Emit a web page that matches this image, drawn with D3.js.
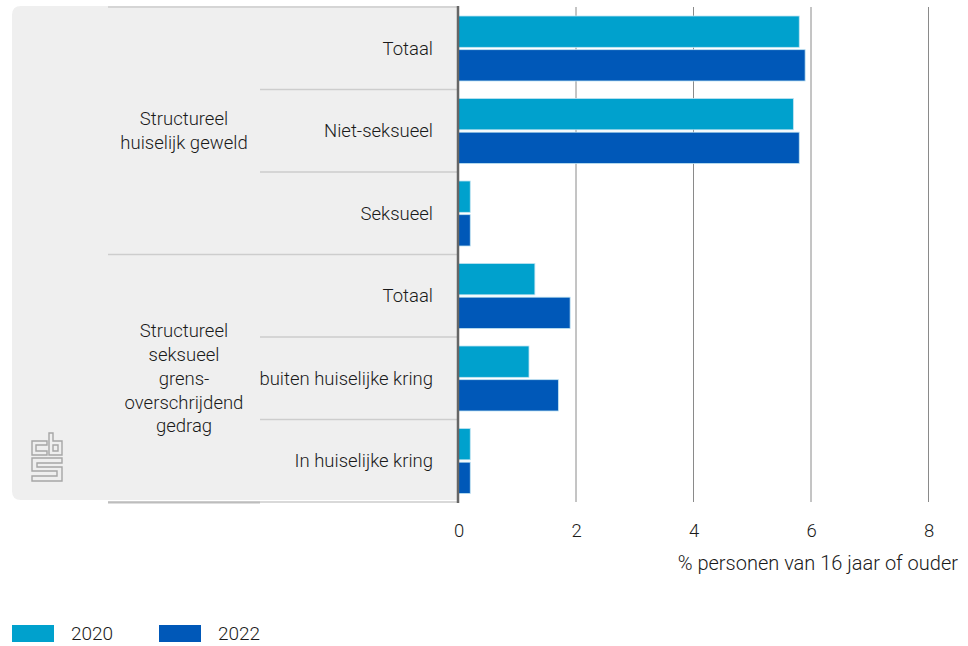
<!DOCTYPE html>
<html><head><meta charset="utf-8">
<script src="https://cdn.jsdelivr.net/npm/d3@7"></script>
<style>
html,body{margin:0;padding:0;background:#fff;}
svg{display:block;font-family:Roboto, "Noto Sans", sans-serif;font-weight:300;}
</style></head>
<body>
<svg id="chart" width="968" height="646"></svg>
<script>
const groups = ["Structureel huiselijk geweld", "Structureel seksueel grensoverschrijdend gedrag"];
const groupLines = [["Structureel", "huiselijk geweld"], ["Structureel", "seksueel", "grens-", "overschrijdend", "gedrag"]];
const categories = ["Totaal", "Niet-seksueel", "Seksueel", "Totaal", "buiten huiselijke kring", "In huiselijke kring"];
const categoryGroup = [0, 0, 0, 1, 1, 1];
const series = ["2020", "2022"];
const values2020 = [5.8, 5.7, 0.2, 1.3, 1.2, 0.2];
const values2022 = [5.9, 5.8, 0.2, 1.9, 1.7, 0.2];
const xTicks = [0, 2, 4, 6, 8];
const axisTitle = "% personen van 16 jaar of ouder";
const colors = {"2020": "#00a1cd", "2022": "#0058b8"};

const svg = d3.select("#chart");
const FS = 18.5;
const x0 = 458.5, x1 = 928.5, yTop = 7, yBot = 502;
const x = d3.scaleLinear().domain([0, 8]).range([x0, x1]);
const y = d3.scaleBand().domain(d3.range(categories.length)).range([yTop, yBot]).padding(0);
const ySub = d3.scaleBand().domain(series).range([9, y.bandwidth() - 8.5]).paddingInner(0.07);

// grey panel
svg.append("path")
  .attr("d", (() => { const l=12,t=6,r=458,b=500,rad=9;
    return `M${r},${t} L${l+rad},${t} Q${l},${t} ${l},${t+rad} L${l},${b-rad} Q${l},${b} ${l+rad},${b} L${r},${b} Z`; })())
  .attr("fill", "#efefef");

// gridlines
svg.append("g").selectAll("line").data(xTicks.filter(d => d > 0)).join("line")
  .attr("x1", d => x(d)).attr("x2", d => x(d))
  .attr("y1", yTop).attr("y2", yBot)
  .attr("stroke", "#8a8a8a").attr("stroke-width", 1);

// separator lines
const sep = svg.append("g").attr("stroke", "#cdcdcd").attr("stroke-width", 1.5);
for (let i = 0; i <= categories.length; i++) {
  const yy = i < categories.length ? y(i) : yBot;
  const isGroupEdge = i === 0 || i === categories.length || categoryGroup[i] !== categoryGroup[i-1];
  sep.append("line").attr("x1", isGroupEdge ? 108 : 260).attr("x2", x0)
    .attr("y1", yy).attr("y2", yy);
}
svg.append("line").attr("x1", 108).attr("x2", 260).attr("y1", yBot + 0.5).attr("y2", yBot + 0.5)
  .attr("stroke", "#bdbdbd").attr("stroke-width", 2);

// bars
const data = categories.map((c, i) => ({i, c, vals: [{s: "2020", v: values2020[i]}, {s: "2022", v: values2022[i]}]}));
const cat = svg.append("g").selectAll("g").data(data).join("g")
  .attr("transform", d => `translate(0,${y(d.i)})`);
cat.selectAll("rect").data(d => d.vals).join("rect")
  .attr("x", x(0)).attr("y", d => ySub(d.s))
  .attr("width", d => x(d.v) - x(0)).attr("height", ySub.bandwidth())
  .attr("fill", d => colors[d.s])
  .attr("stroke", "#bfe3f2").attr("stroke-width", 0.8);

// category labels
svg.append("g").selectAll("text").data(data).join("text")
  .attr("x", 433).attr("y", d => y(d.i) + y.bandwidth() / 2)
  .attr("dy", "0.35em").attr("text-anchor", "end")
  .attr("font-size", FS).attr("fill", "#1a1a1a").text(d => d.c);

// group labels
groups.forEach((g, gi) => {
  const idx = categoryGroup.map((v, i) => v === gi ? i : -1).filter(i => i >= 0);
  const yc = (y(idx[0]) + y(idx[idx.length - 1]) + y.bandwidth()) / 2;
  const lines = groupLines[gi];
  const lh = 23.8;
  const t = svg.append("text").attr("text-anchor", "middle").attr("font-size", FS).attr("fill", "#1a1a1a");
  lines.forEach((ln, k) => {
    t.append("tspan").attr("x", 184).attr("y", yc + (k - (lines.length - 1) / 2) * lh).attr("dy", "0.35em").text(ln);
  });
});

// zero axis line
svg.append("line").attr("x1", x0 - 0.5).attr("x2", x0 - 0.5).attr("y1", yTop - 1).attr("y2", yBot + 1)
  .attr("stroke", "#666").attr("stroke-width", 2.5);

// x axis tick labels
const xAxis = d3.axisBottom(x).tickValues(xTicks).tickSize(0).tickPadding(0);
const ax = svg.append("g").attr("transform", `translate(0,${yBot})`).call(xAxis);
ax.select(".domain").remove();
ax.selectAll("text").attr("y", 22).attr("dy", "0.71em").attr("font-size", FS).attr("fill", "#1a1a1a")
  .attr("font-family", "Roboto, sans-serif").attr("font-weight", 300);

svg.append("text").attr("x", 958).attr("y", 563).attr("dy", "0.35em").attr("text-anchor", "end")
  .attr("font-size", 20).attr("fill", "#1a1a1a").text(axisTitle);

// legend
const leg = svg.append("g").selectAll("g").data(series).join("g")
  .attr("transform", (d, i) => `translate(${12 + i * 147},625)`);
leg.append("rect").attr("width", 42).attr("height", 17).attr("fill", d => colors[d]);
leg.append("text").attr("x", 59).attr("y", 8.5).attr("dy", "0.35em")
  .attr("font-size", 19).attr("fill", "#1a1a1a").text(d => d);

// CBS logo (decorative)
const logo = svg.append("g").attr("fill", "none").attr("stroke", "#a6a6a6").attr("stroke-width", 1.4)
  .attr("stroke-linejoin", "miter");
logo.append("path").attr("d",
  "M47,441 L32,441 L32,455 L47,455 L47,451 L36,451 L36,445 L47,445 Z " +
  "M49,433 L53,433 L53,441 L62,441 L62,455 L49,455 Z M53,445 L58,445 L58,451 L53,451 Z " +
  "M62,458 L32,458 L32,471 L57,471 L57,476 L32,476 L32,481 L62,481 L62,467 L37,467 L37,463 L62,463 Z");
</script>
</body></html>
